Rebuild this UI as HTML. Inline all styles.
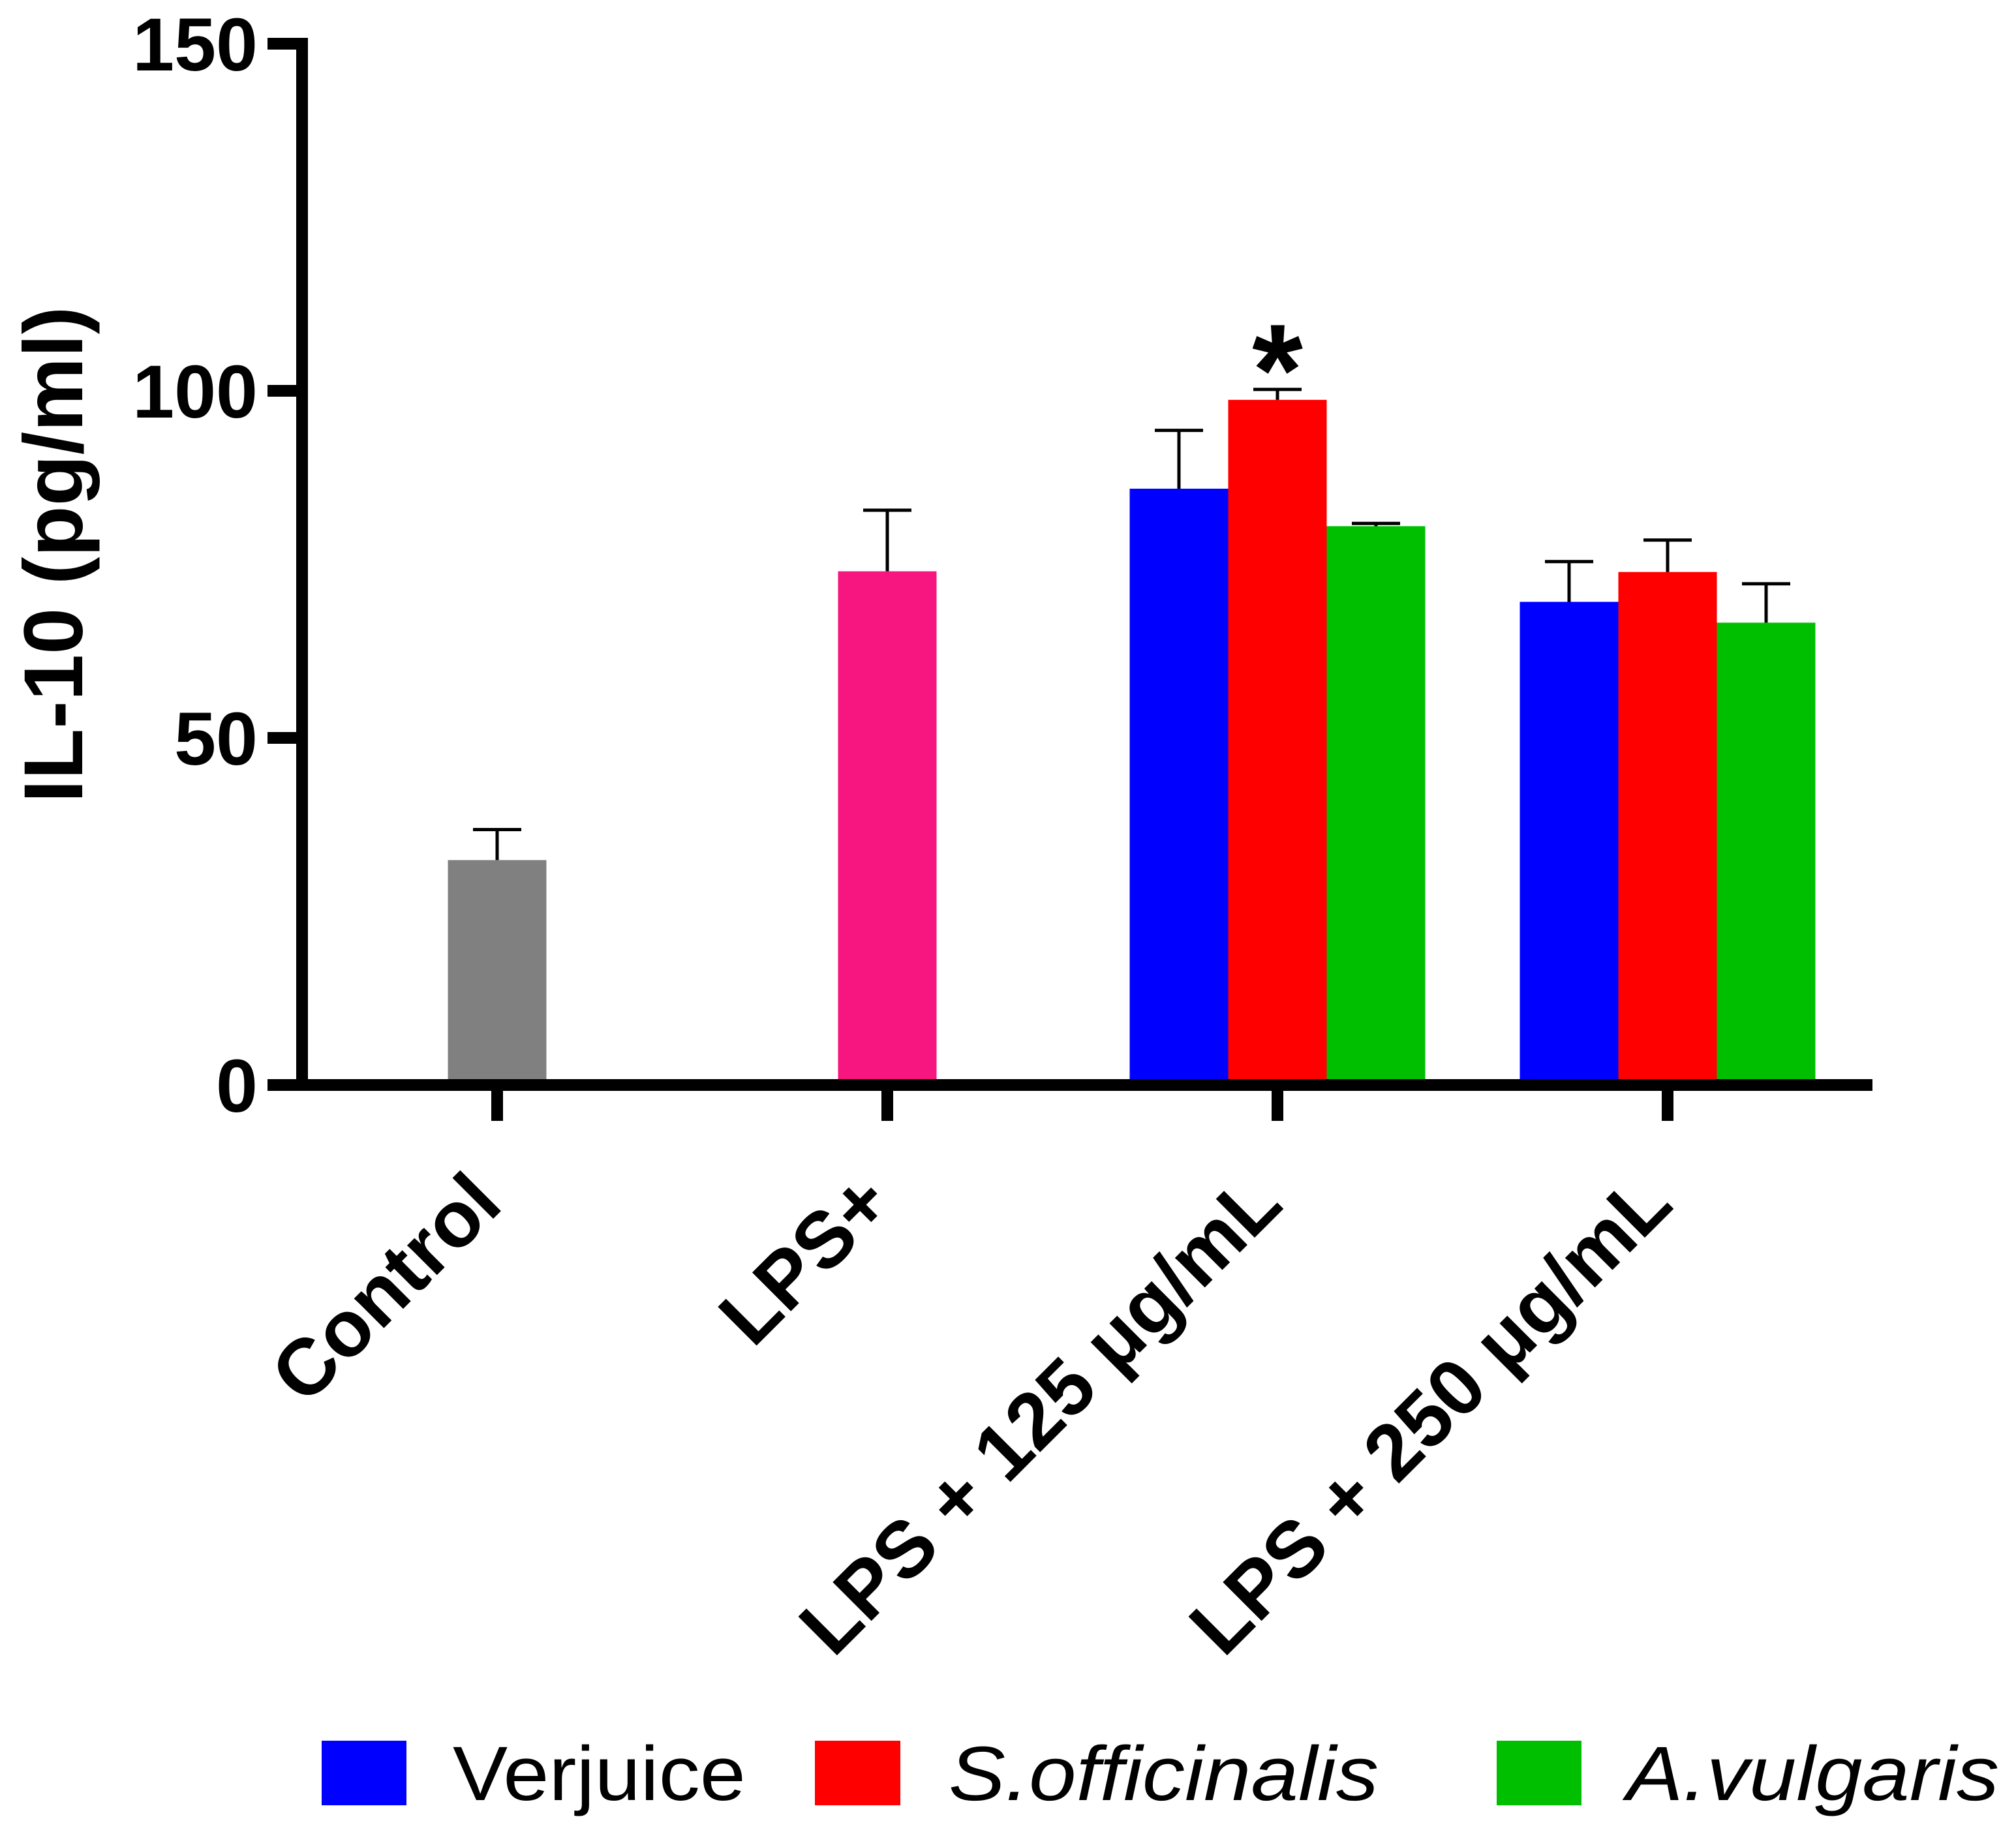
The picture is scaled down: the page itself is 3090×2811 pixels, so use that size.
<!DOCTYPE html>
<html><head><meta charset="utf-8"><style>
html,body{margin:0;padding:0;background:#fff;}
svg{display:block;font-family:"Liberation Sans",Arial,sans-serif;}
</style></head><body>
<svg id="chart" width="3090" height="2811" viewBox="0 0 3090 2811" xmlns="http://www.w3.org/2000/svg">
<g id="bars"></g>
<g id="axes"></g>
<text transform="translate(126,850) rotate(-90)" text-anchor="middle" font-size="128" font-weight="bold">IL-10 (pg/ml)</text>
<text x="1958" y="636" text-anchor="middle" font-size="200" font-weight="bold">*</text>
<g>
  <rect x="493" y="2668" width="130" height="99" fill="#0000ff"/>
  <text x="694" y="2759" font-size="118" textLength="449" lengthAdjust="spacingAndGlyphs">Verjuice</text>
  <rect x="1249" y="2668" width="131" height="99" fill="#ff0000"/>
  <text x="1454" y="2759" font-size="118" font-style="italic" textLength="659" lengthAdjust="spacingAndGlyphs">S.officinalis</text>
  <rect x="2294" y="2668" width="130" height="99" fill="#00bf00"/>
  <text x="2493" y="2759" font-size="118" font-style="italic" textLength="571" lengthAdjust="spacingAndGlyphs">A.vulgaris</text>
</g>
</svg>
<script>
const categories = ["Control", "LPS+", "LPS + 125 \u03BCg/mL", "LPS + 250 \u03BCg/mL"];
const controlValues = [32.4, null, null, null];
const controlErrors = [4.4, null, null, null];
const lpsValues = [null, 74.0, null, null];
const lpsErrors = [null, 8.8, null, null];
const verjuiceValues = [null, null, 85.9, 69.6];
const verjuiceErrors = [null, null, 8.4, 5.8];
const officinalisValues = [null, null, 98.7, 73.9];
const officinalisErrors = [null, null, 1.5, 4.6];
const vulgarisValues = [null, null, 80.5, 66.6];
const vulgarisErrors = [null, null, 0.4, 5.6];
const yTicks = [0, 50, 100, 150];
const yTickLabels = ["0", "50", "100", "150"];

const NS = "http://www.w3.org/2000/svg";
const y0px = 1663, y150px = 67, yMax = 150;
function yScale(v){ return y0px - (v / yMax) * (y0px - y150px); }
const xFirst = 762, xStep = 598;
function xScale(i){ return xFirst + i * xStep; }
const barW = 151;

function mk(tag, attrs, parent){
  const el = document.createElementNS(NS, tag);
  for (const k in attrs) el.setAttribute(k, attrs[k]);
  parent.appendChild(el);
  return el;
}
const barsG = document.getElementById('bars');
const axesG = document.getElementById('axes');

const singleSeries = [
  {vals: controlValues, errs: controlErrors, color: "#808080", name: "control"},
  {vals: lpsValues, errs: lpsErrors, color: "#f7157f", name: "lps"}
];
const groupSeries = [
  {vals: verjuiceValues, errs: verjuiceErrors, color: "#0000ff", name: "verjuice"},
  {vals: officinalisValues, errs: officinalisErrors, color: "#ff0000", name: "s-officinalis"},
  {vals: vulgarisValues, errs: vulgarisErrors, color: "#00bf00", name: "a-vulgaris"}
];

function drawBar(cx, v, e, color, name){
  const top = yScale(v);
  const r = mk('rect', {x: cx - barW/2, y: top, width: barW, height: y0px - top, fill: color}, barsG);
  
  
  if (e != null){
    const et = yScale(v + e);
    const g = mk('g', {stroke: '#000', 'stroke-width': 5, fill: 'none'}, barsG);
    
    
    mk('line', {x1: cx, x2: cx, y1: top, y2: et}, g);
    mk('line', {x1: cx - 37, x2: cx + 37, y1: et, y2: et}, g);
  }
}

categories.forEach((c, i) => {
  singleSeries.forEach(s => {
    if (s.vals[i] != null) drawBar(xScale(i), s.vals[i], s.errs[i], s.color, s.name + '-' + i);
  });
  const n = groupSeries.length;
  groupSeries.forEach((s, j) => {
    if (s.vals[i] != null){
      const cx = xScale(i) + (j - (n - 1) / 2) * barW;
      drawBar(cx, s.vals[i], s.errs[i], s.color, s.name + '-' + i);
    }
  });
});

const yAxis = mk('line', {x1: 463, x2: 463, y1: 58, y2: 1672, stroke: '#000', 'stroke-width': 18}, axesG);


const xAxis = mk('line', {x1: 454, x2: 2870, y1: y0px, y2: y0px, stroke: '#000', 'stroke-width': 18}, axesG);



yTicks.forEach((t, k) => {
  const y = yScale(t);
  const tk = mk('line', {x1: 410, x2: 463, y1: y, y2: y, stroke: '#000', 'stroke-width': 18}, axesG);
  
  
  const lb = mk('text', {x: 395, y: y + 41, 'text-anchor': 'end', 'font-size': 115, 'font-weight': 'bold'}, axesG);
  lb.textContent = yTickLabels[k];
  
  
});

categories.forEach((c, i) => {
  const x = xScale(i);
  const tk = mk('line', {x1: x, x2: x, y1: y0px, y2: 1718, stroke: '#000', 'stroke-width': 18}, axesG);
  
  
  const lb = mk('text', {transform: 'translate(' + (x + 12) + ',1850) rotate(-45)', 'text-anchor': 'end', 'font-size': 122, 'font-weight': 'bold'}, axesG);
  lb.textContent = c;
  
  
});
</script>
</body></html>
